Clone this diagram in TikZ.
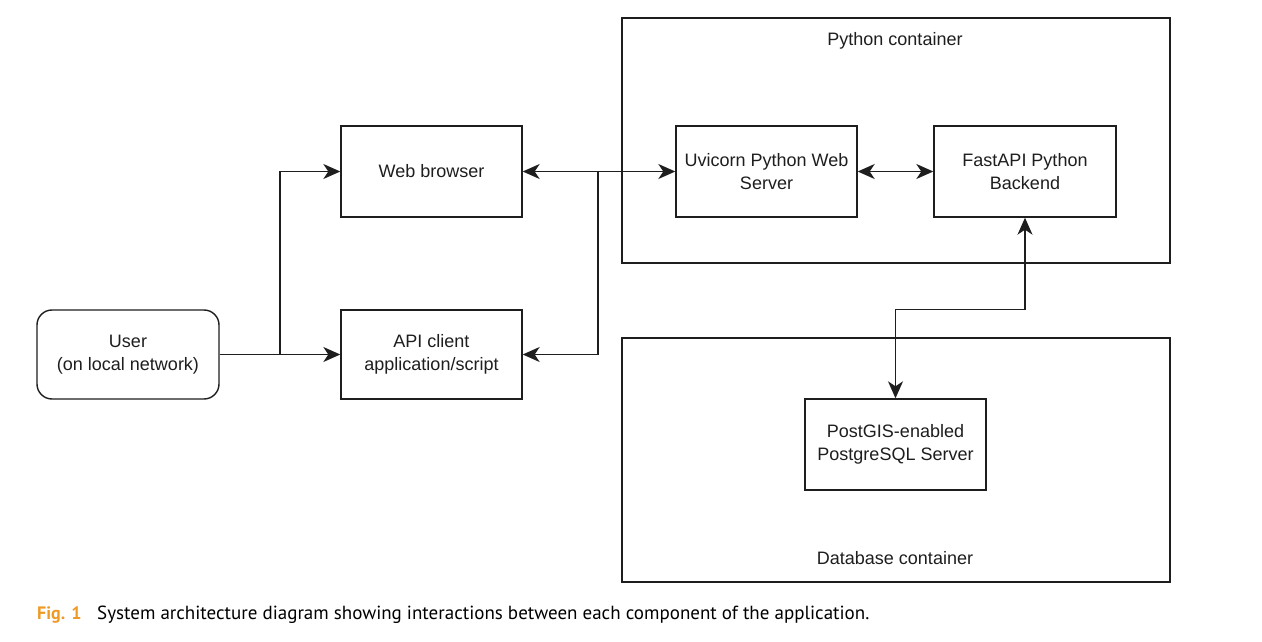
\documentclass[tikz,border=0pt]{standalone}
\usepackage{fontspec}
\setmainfont{Liberation Sans}
\newfontfamily\capfont{PT Sans}
\usetikzlibrary{arrows.meta}
\definecolor{figorange}{HTML}{EE9B26}
\definecolor{inkc}{HTML}{1E1E1E}
\tikzset{
  tip/.tip={Stealth[length=17pt,width=15pt,inset=5pt]},
  box/.style={draw=inkc, line width=1.4pt, rectangle, minimum width=181pt, minimum height=91pt, align=center, inner sep=0pt, font=\fontsize{18}{23}\selectfont, text=inkc},
  cont/.style={draw=inkc, line width=1.4pt, rectangle, minimum width=548pt, minimum height=245pt, inner sep=0pt},
  lbl/.style={font=\fontsize{18}{23}\selectfont, text=inkc, inner sep=0pt},
  conn/.style={draw=inkc, line width=1.4pt, -tip},
  conn2/.style={draw=inkc, line width=1.4pt, tip-tip},
  captext/.style={font=\capfont\fontsize{19}{22}\selectfont, inner sep=0pt, anchor=base west}
}
\begin{document}
\begin{tikzpicture}[x=1pt, y=-1pt]
\useasboundingbox (0,0) rectangle (1262,642);
\fill[white] (0,0) rectangle (1262,642);
% containers
\node[cont] (pycont) at (896,140.5) {};
\node[cont, minimum height=244pt] (dbcont) at (896,460) {};
\node[lbl] (pylbl) at (895,41) {Python container};
\node[lbl] (dblbl) at (895,558) {Database container};
% boxes
\node[box] (web) at (431.5,171.5) {Web browser};
\node[box, minimum height=89pt] (api) at (431.5,354.5) {API client\\application/script};
\node[box, minimum width=182pt, minimum height=89pt, rounded corners=15pt] (user) at (128,354.5) {User\\(on local network)};
\node[box] (uvi) at (766.5,171.5) {Uvicorn Python Web\\Server};
\node[box, minimum width=182pt] (fast) at (1025,171.5) {FastAPI Python\\Backend};
\node[box] (pg) at (895.5,444.5) {PostGIS-enabled\\PostgreSQL Server};
% connectors
\coordinate (j1) at (280,354.5);
\coordinate (j2) at (598,171.5);
\draw[conn] (user.east) -- (api.west);
\draw[conn] (j1) |- (web.west);
\draw[conn2] (web.east) -- (uvi.west);
\draw[conn] (j2) |- (api.east);
\draw[conn2] (uvi.east) -- (fast.west);
\draw[conn2] (fast.south) -- ++(0,92) -| (pg.north);
% caption
\node[captext, text=figorange, font=\capfont\bfseries\fontsize{18}{22}\selectfont] (fig) at (37,619) {Fig. 1};
\node[captext] (captxt) at (97,619) {System architecture diagram showing interactions between each component of the application.};
\end{tikzpicture}
\end{document}
